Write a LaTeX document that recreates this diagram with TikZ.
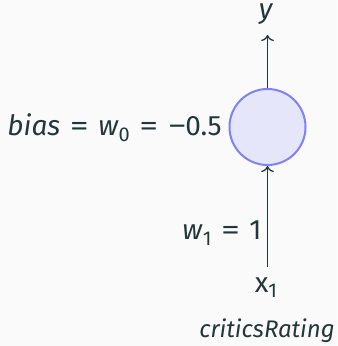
\documentclass[tikz,border=0pt]{standalone}
\usepackage{fontspec}
\setmainfont{Fira Sans}
\usetikzlibrary{positioning, arrows.meta}
\definecolor{mDark}{HTML}{23373B}
\definecolor{mBack}{HTML}{FAFAFA}
\definecolor{neuronFill}{HTML}{E6E6FA}
\definecolor{neuronDraw}{HTML}{8080F8}
\newcommand{\var}[1]{\textit{#1}}
\newcommand{\sub}[1]{\raisebox{-0.18em}{\fontsize{10}{10}\selectfont #1}}
\newcommand{\eq}{\hspace{0.34em}\scalebox{1.35}[1]{=}\hspace{0.34em}}
\newcommand{\minus}{\scalebox{1.35}[1]{−}\hspace{-0.05em}}

\begin{document}
\begin{tikzpicture}[
    x=0.5pt, y=-0.5pt,
    every node/.style={text=mDark, font=\fontsize{14}{16}\selectfont, inner sep=0pt},
    neuron/.style={circle, draw=neuronDraw, fill=neuronFill, line width=1pt, minimum size=38pt, inner sep=0pt},
    arrow/.style={->, draw=mDark, line width=0.65pt}
]
\fill[mBack] (0,0) rectangle (337,346);
\useasboundingbox (0,0) rectangle (337,346);

% neuron
\node[neuron] (n) at (267.5,127) {};
\node[anchor=base east] (bias) at (222,136) {\var{bias}\eq\var{w}\sub{0}\eq\minus 0.5};

% output
\coordinate (out) at (267.5,35);
\node[anchor=base] (y) at (266,19) {\var{y}};
\draw[arrow] (n) -- (out);

% input
\coordinate (in) at (267.5,267);
\node[anchor=base east] (w1) at (262,240) {\var{w}\sub{1}\eq 1};
\node[anchor=base] (x1) at (266,292) {x\sub{1}};
\node[anchor=base, font=\fontsize{12}{14}\selectfont\itshape] (critics) at (267,337) {criticsRating};
\draw[arrow] (in) -- (n);

\end{tikzpicture}
\end{document}
